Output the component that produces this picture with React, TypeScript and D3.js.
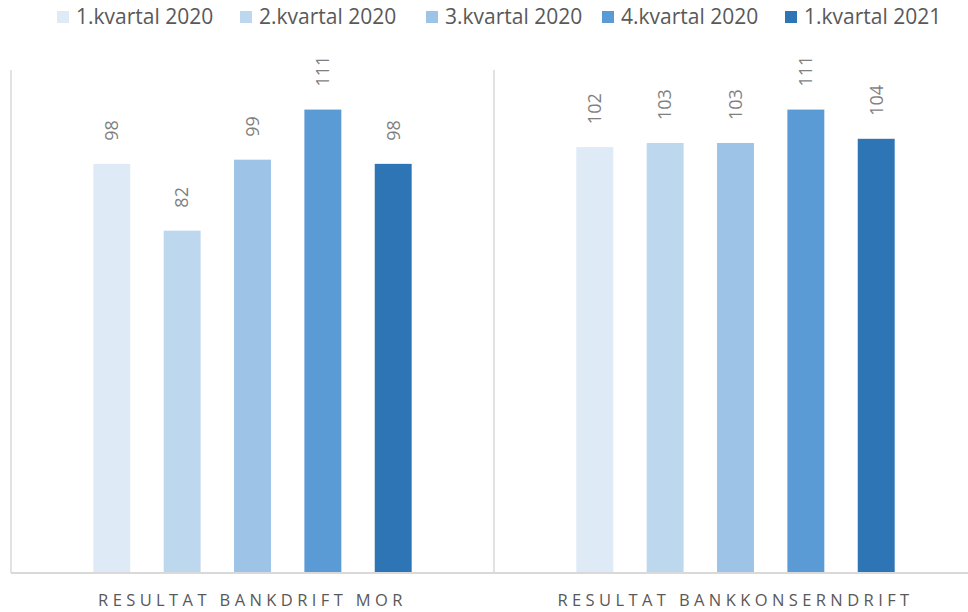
import React from "react";
import { scaleBand, scaleLinear } from "d3";

const categories = ["RESULTAT BANKDRIFT MOR", "RESULTAT BANKKONSERNDRIFT"];
const seriesNames = [
  "1.kvartal 2020",
  "2.kvartal 2020",
  "3.kvartal 2020",
  "4.kvartal 2020",
  "1.kvartal 2021",
];
const seriesColors = ["#DEEAF6", "#BDD7EE", "#9DC3E6", "#5B9BD5", "#2E75B6"];
// values per series, one per category
const q1_2020 = [98, 102];
const q2_2020 = [82, 103];
const q3_2020 = [99, 103];
const q4_2020 = [111, 111];
const q1_2021 = [98, 104];
const seriesValues = [q1_2020, q2_2020, q3_2020, q4_2020, q1_2021];
const legendX = [57, 240, 426, 602, 785];

export default function App() {
  const width = 968;
  const height = 612;
  const margin = { top: 72, right: -9, bottom: 39, left: 11 };

  const x0 = scaleBand()
    .domain(categories)
    .range([margin.left, width - margin.right])
    .padding(0);

  const x1 = scaleBand()
    .domain(seriesNames)
    .range([0, x0.bandwidth()])
    .paddingInner(0.475)
    .paddingOuter(1.17);

  const y = scaleLinear()
    .domain([0, 120])
    .range([height - margin.bottom, margin.top]);

  const font = "'Liberation Sans Narrow', 'Open Sans', sans-serif";

  return (
    <svg
      width={width}
      height={height}
      style={{ position: "absolute", left: 0, top: 0, background: "#fff" }}
    >
      {/* Legend */}
      {seriesNames.map((s, i) => (
        <g key={s} transform={`translate(${legendX[i]},17)`}>
          <rect x={0} y={-6} width={12} height={12} fill={seriesColors[i]} />
          <text
            x={19}
            y={0}
            dy="0.35em"
            fontFamily={font}
            fontSize={21}
            fill="#595959"
          >
            {s}
          </text>
        </g>
      ))}

      {/* Category separators */}
      {[...categories.map((c) => x0(c)!), width - margin.right].map((xv, i) => (
        <line
          key={i}
          x1={xv}
          x2={xv}
          y1={margin.top - 2}
          y2={y(0)}
          stroke="#d9d9d9"
          strokeWidth={1.5}
        />
      ))}

      {/* Bars */}
      {categories.map((c, ci) => (
        <g key={c} transform={`translate(${x0(c)},0)`}>
          {seriesNames.map((s, si) => {
            const v = seriesValues[si][ci];
            const bx = x1(s)!;
            return (
              <g key={s}>
                <rect
                  x={bx}
                  y={y(v)}
                  width={x1.bandwidth()}
                  height={y(0) - y(v)}
                  fill={seriesColors[si]}
                />
                <text
                  transform={`translate(${bx + x1.bandwidth() / 2},${y(v) - 23}) rotate(-90)`}
                  dy="0.35em"
                  fontFamily="'Open Sans', sans-serif"
                  fontSize={18}
                  fill="#7f7f7f"
                >
                  {v}
                </text>
              </g>
            );
          })}
          <text
            x={x0.bandwidth() / 2}
            y={height - 6}
            textAnchor="middle"
            fontFamily="'Open Sans', sans-serif"
            fontSize={16.5}
            letterSpacing={4.4}
            fill="#595959"
          >
            {c}
          </text>
        </g>
      ))}

      {/* Baseline */}
      <line
        x1={margin.left}
        x2={width}
        y1={y(0)}
        y2={y(0)}
        stroke="#d9d9d9"
        strokeWidth={2}
      />
    </svg>
  );
}
